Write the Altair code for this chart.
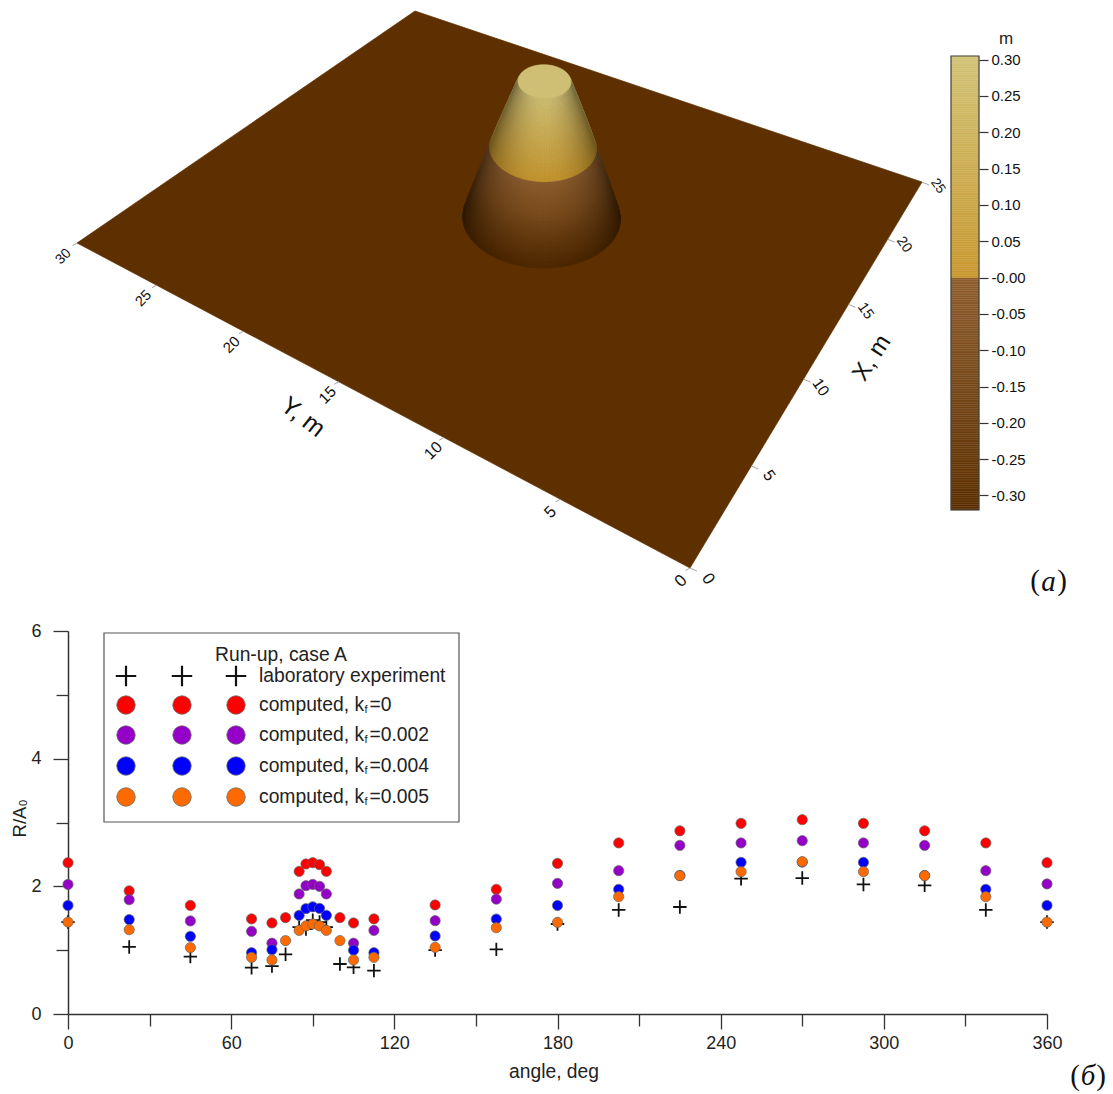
import altair as alt
import numpy as np
import pandas as pd

# ---------- run-up data (lower panel) ----------
angle = [0, 22.5, 45, 67.5, 75, 80, 85, 87.5, 90, 92.5, 95, 100, 105, 112.5, 135, 157.5,
         180, 202.5, 225, 247.5, 270, 292.5, 315, 337.5, 360]
lab = [1.44, 1.05, 0.90, 0.725, 0.75, 0.935, 1.36, 1.33, 1.47, 1.44, 1.36, 0.783, 0.73, 0.68, 1.00, 1.013,
       1.41, 1.63, 1.676, 2.12, 2.13, 2.03, 2.016, 1.63, 1.44]
k0 = [2.37, 1.93, 1.70, 1.49, 1.426, 1.51, 2.235, 2.35, 2.37, 2.34, 2.235, 1.51, 1.426, 1.49, 1.708, 1.953,
      2.36, 2.68, 2.87, 2.987, 3.044, 2.987, 2.87, 2.68, 2.37]
k002 = [2.03, 1.79, 1.457, 1.295, 1.11, None, 1.88, 2.01, 2.03, 2.0, 1.88, None, 1.11, 1.31, 1.462, 1.80,
        2.047, 2.245, 2.642, 2.68, 2.715, 2.68, 2.642, 2.245, 2.037]
k004 = [1.70, 1.48, 1.217, 0.96, 1.007, None, 1.546, 1.65, 1.68, 1.655, 1.546, None, 1.0, 0.96, 1.222, 1.488,
        1.70, 1.953, 2.17, 2.376, 2.38, 2.376, 2.17, 1.953, 1.70]
k005 = [1.44, 1.32, 1.04, 0.888, 0.846, 1.15, 1.31, 1.38, 1.41, 1.38, 1.31, 1.15, 0.846, 0.888, 1.044, 1.352,
        1.436, 1.838, 2.167, 2.23, 2.386, 2.23, 2.167, 1.838, 1.44]
series_colors = ["#ff0000", "#9400c8", "#0000ff", "#ff6a00"]
legend_rows = ["laboratory experiment", "computed, k", "computed, k", "computed, k", "computed, k"]
legend_tails = ["=0", "=0.002", "=0.004", "=0.005"]

x_major = [0, 60, 120, 180, 240, 300, 360]
x_minor = [30, 90, 150, 210, 270, 330]
y_major = [0, 2, 4, 6]
y_minor = [1, 3, 5]
cb_ticks = [0.30, 0.25, 0.20, 0.15, 0.10, 0.05, 0.0, -0.05, -0.10, -0.15, -0.20, -0.25, -0.30]

# ---------- island geometry (upper panel) ----------
cone_center = (12.96, 13.8)
z_bed, z_top = -0.32, 0.305
r_top, slope_inv = 1.1, 4.0
plane_src = [(0, 0), (25, 0), (25, 30), (0, 30)]
plane_dst = [(690, 568), (922, 182), (415, 11), (77, 243)]
x_ticks3d = [0, 5, 10, 15, 20, 25]
y_ticks3d = [0, 5, 10, 15, 20, 25, 30]
plane_color = "#5e3000"

W, H = 1097, 1086
PX = alt.Scale(domain=[8, 8 + W], range=[0, W])
PY = alt.Scale(domain=[8 + H, 8], range=[H, 0])
SX = alt.Scale(domain=[0, 360], range=[60, 1039], nice=False, zero=False)
SY = alt.Scale(domain=[0, 6], range=[1006, 623], nice=False, zero=False)
CB = alt.Scale(domain=[z_bed, z_top], range=[502, 48], nice=False, zero=False)
FONT = "Liberation Sans"


def homography(src, dst):
    a, b = [], []
    for (x, y), (u, v) in zip(src, dst):
        a.append([x, y, 1, 0, 0, 0, -u * x, -u * y]); b.append(u)
        a.append([0, 0, 0, x, y, 1, -v * x, -v * y]); b.append(v)
    h = np.linalg.solve(np.array(a, float), np.array(b, float))
    return np.append(h, 1).reshape(3, 3)


HM = homography(plane_src, plane_dst)


def ground(x, y):
    x, y = np.asarray(x, float), np.asarray(y, float)
    w = HM[2, 0] * x + HM[2, 1] * y + HM[2, 2]
    return (HM[0, 0] * x + HM[0, 1] * y + HM[0, 2]) / w, (HM[1, 0] * x + HM[1, 1] * y + HM[1, 2]) / w


def hex2rgb(c):
    return np.array([int(c[i:i + 2], 16) for i in (1, 3, 5)], float)


def cmap(z):
    if z < 0:
        t = (z - z_bed) / (0 - z_bed)
        c = hex2rgb("#5c2f00") * (1 - t) + hex2rgb("#905f30") * t
    else:
        t = z / z_top
        c = hex2rgb("#c8982f") * (1 - t) + hex2rgb("#d2c376") * t
    return c


def tohex(c):
    c = np.clip(c, 0, 255).round().astype(int)
    return "#%02x%02x%02x" % tuple(c)


thetas = np.linspace(0, 2 * np.pi, 121)
gx0, gy0 = ground(*cone_center)


def ring(z):
    t = (z - z_bed) / (z_top - z_bed)
    r = r_top + (z_top - z) * slope_inv
    gx, gy = ground(cone_center[0] + r * np.cos(thetas), cone_center[1] + r * np.sin(thetas))
    grow = 1 + 0.10 * t
    return gx0 + (gx - gx0) * grow + 3 * t, gy0 + (gy - gy0) * grow - 134 * t


def feat(xs, ys, c):
    pts = [[round(float(a), 2), round(float(b), 2)] for a, b in zip(xs, ys)]
    if pts[0] != pts[-1]:
        pts.append(pts[0])
    return {"type": "Feature", "properties": {"c": c}, "geometry": {"type": "Polygon", "coordinates": [pts]}}


features = [feat(*zip(*plane_dst), plane_color)]
z_levels = np.concatenate([np.linspace(z_bed, 0, 25), np.linspace(0, z_top, 25)[1:]])
z_pairs = [(a, b) for a, b in zip(z_levels[:-1], z_levels[1:])]
rx0, ry0 = ring(z_bed)
rx1, ry1 = ring(z_bed + 0.05)
i_front = int(np.argmax(ry0[:-1]))


def sarea(xa, ya, xb, yb, xc, yc, xd, yd):
    return (xa * yb - xb * ya) + (xb * yc - xc * yb) + (xc * yd - xd * yc) + (xd * ya - xa * yd)


front_sign = np.sign(sarea(rx0[i_front], ry0[i_front], rx0[i_front + 1], ry0[i_front + 1],
                           rx1[i_front + 1], ry1[i_front + 1], rx1[i_front], ry1[i_front]))
for za, zb in z_pairs:
    xa, ya = ring(za)
    xb, yb = ring(zb)
    zm = (za + zb) / 2
    xm, ym = ring(zm)
    hw = (xm.max() - xm.min()) / 2
    xc = (xm.max() + xm.min()) / 2
    base = cmap(zm)
    for i in range(len(thetas) - 1):
        s = sarea(xa[i], ya[i], xa[i + 1], ya[i + 1], xb[i + 1], yb[i + 1], xb[i], yb[i])
        if np.sign(s) != front_sign:
            continue
        u = ((xa[i] + xa[i + 1] + xb[i] + xb[i + 1]) / 4 - xc) / hw
        shade = 0.55 + 0.42 * np.sqrt(max(1 - u * u, 0))
        shade *= 0.85 + 0.15 * min(1, (zm - z_bed) / 0.2)
        features.append(feat([xa[i], xa[i + 1], xb[i + 1], xb[i]], [ya[i], ya[i + 1], yb[i + 1], yb[i]],
                             tohex(base * shade)))
cx, cy = ring(z_top)
features.append(feat(cx[:-1], cy[:-1], tohex(cmap(z_top) * 0.98)))

surface = alt.Chart(alt.InlineData(values=features)).mark_geoshape(strokeWidth=0.7).encode(
    color=alt.Color("properties.c:N", scale=None),
    stroke=alt.Stroke("properties.c:N", scale=None),
).project(type="identity", scale=1, translate=[-8, -8])

# ---------- 3D edge ticks and labels ----------
rows_tick, rows_txt = [], []
for v in x_ticks3d:
    px, py = ground(v, 0)
    rows_tick.append(dict(x=float(px), y=float(py), x2=float(px) + 7, y2=float(py) + 3))
    rows_txt.append(dict(t=str(v), x=float(px) + 18 - v * 0.08, y=float(py) + 11 - v * 0.28, a=55, s=17 - v * 0.14))
for v in y_ticks3d:
    px, py = ground(0, v)
    rows_tick.append(dict(x=float(px), y=float(py), x2=float(px) - 4.5, y2=float(py) + 2.5))
    rows_txt.append(dict(t=str(v), x=float(px) - 9 - v * 0.15, y=float(py) + 13 + v * 0.02, a=315, s=17 - v * 0.1))
rows_txt.append(dict(t="Y, m", x=303, y=417, a=38, s=25))
rows_txt.append(dict(t="X, m", x=872, y=358, a=303, s=24))
ticks3d = alt.Chart(pd.DataFrame(rows_tick)).mark_rule(color="#999", strokeWidth=0.9).encode(
    x=alt.X("x:Q", scale=PX, axis=None), x2="x2:Q", y=alt.Y("y:Q", scale=PY, axis=None), y2="y2:Q")
labels3d = alt.Chart(pd.DataFrame(rows_txt)).mark_text(font=FONT, color="#111", baseline="middle", align="center").encode(
    x=alt.X("x:Q", scale=PX, axis=None), y=alt.Y("y:Q", scale=PY, axis=None), text="t:N",
    angle=alt.Angle("a:Q", scale=None), size=alt.Size("s:Q", scale=None))

# ---------- colour bar ----------
cb_edges = np.concatenate([np.arange(z_bed, -1e-9, 0.0025), [0.0], np.arange(0.0025, z_top, 0.0025), [z_top]])
cb_df = pd.DataFrame({"z0": cb_edges[:-1], "z1": cb_edges[1:], "xa": 951, "xb": 979,
                      "c": [tohex(cmap((a + b) / 2)) for a, b in zip(cb_edges[:-1], cb_edges[1:])]})
cb_axis = alt.Axis(values=cb_ticks, orient="right", offset=-126, domain=False, grid=False, title=None,
                   tickSize=9, tickColor="#333", tickWidth=1.2, labelFont=FONT, labelFontSize=15,
                   labelColor="#111", labelPadding=3, labelFlush=False,
                   labelExpr="datum.value == 0 ? '-0.00' : (datum.value < 0 ? '-' : '') + format(abs(datum.value), '.2f')")
cbar = alt.Chart(cb_df).mark_rect(strokeWidth=0.4).encode(
    x=alt.X("xa:Q", scale=PX, axis=None), x2="xb:Q",
    y=alt.Y("z0:Q", scale=CB, axis=cb_axis), y2="z1:Q",
    color=alt.Color("c:N", scale=None), stroke=alt.Stroke("c:N", scale=None))
cb_frame = alt.Chart(pd.DataFrame({"xa": [951], "xb": [979], "z0": [z_bed], "z1": [z_top]})).mark_rect(
    fillOpacity=0, stroke="#444", strokeWidth=1.2).encode(
    x=alt.X("xa:Q", scale=PX, axis=None), x2="xb:Q",
    y=alt.Y("z0:Q", scale=CB, axis=None), y2="z1:Q")

# ---------- scatter ----------
PLUS = "M-1,0L1,0M0,-1L0,1"
X_OFF = 1006 - H
common = dict(grid=False, title=None, tickColor="#333", tickWidth=1.3, domainColor="#333", domainWidth=1.5,
              labelFont=FONT, labelFontSize=18, labelColor="#222", labelFlush=False)
ax_x = alt.Axis(values=x_major, orient="bottom", offset=X_OFF, tickSize=15, labelPadding=5, **common)
ax_y = alt.Axis(values=y_major, orient="left", offset=-60, tickSize=15, labelPadding=12, **common)
ax_x2 = alt.Axis(values=x_minor, orient="bottom", offset=X_OFF, tickSize=12, labels=False, domain=False, grid=False,
                 title=None, tickColor="#333", tickWidth=1.3)
ax_y2 = alt.Axis(values=y_minor, orient="left", offset=-60, tickSize=12, labels=False, domain=False, grid=False,
                 title=None, tickColor="#333", tickWidth=1.3)


def series(values):
    return pd.DataFrame({"angle": angle, "v": values}).dropna()


lab_layer = alt.Chart(series(lab)).mark_point(shape=PLUS, filled=False, stroke="#111", strokeWidth=1.8, size=180, opacity=1).encode(
    x=alt.X("angle:Q", scale=SX, axis=ax_x), y=alt.Y("v:Q", scale=SY, axis=ax_y))
layers_pts = []
for i, (vals, col) in enumerate(zip([k0, k002, k004, k005], series_colors)):
    layers_pts.append(alt.Chart(series(vals)).mark_circle(size=105, color=col, stroke="#666", strokeWidth=0.7, opacity=1).encode(
        x=alt.X("angle:Q", scale=SX, axis=ax_x2 if i == 0 else None),
        y=alt.Y("v:Q", scale=SY, axis=ax_y2 if i == 0 else None)))

# ---------- legend ----------
box = alt.Chart(pd.DataFrame({"x": [104], "x2": [459], "y": [633], "y2": [822]})).mark_rect(
    fill="white", stroke="#555", strokeWidth=1.2).encode(
    x=alt.X("x:Q", scale=PX, axis=None), x2="x2:Q", y=alt.Y("y:Q", scale=PY, axis=None), y2="y2:Q")
sym_x = [126, 182, 236]
row_y = [676, 705, 735, 766, 797]
plus_leg = alt.Chart(pd.DataFrame({"x": sym_x, "y": [row_y[0]] * 3})).mark_point(
    shape=PLUS, filled=False, stroke="#111", strokeWidth=2.2, size=420, opacity=1).encode(
    x=alt.X("x:Q", scale=PX, axis=None), y=alt.Y("y:Q", scale=PY, axis=None))
circ_df = pd.DataFrame([dict(x=x, y=y, c=c) for y, c in zip(row_y[1:], series_colors) for x in sym_x])
circ_leg = alt.Chart(circ_df).mark_circle(size=340, stroke="#666", strokeWidth=0.8, opacity=1).encode(
    x=alt.X("x:Q", scale=PX, axis=None), y=alt.Y("y:Q", scale=PY, axis=None), color=alt.Color("c:N", scale=None))

txt_rows = [dict(t="Run-up, case A", x=215, y=655, s=19.3)]
txt_rows += [dict(t=t, x=259, y=y, s=19.3) for t, y in zip(legend_rows, row_y)]
txt_rows += [dict(t=t, x=369.5, y=y, s=19.3) for t, y in zip(legend_tails, row_y[1:])]
txt_rows += [dict(t="f", x=364.5, y=y + 5, s=11) for y in row_y[1:]]
left_txt = alt.Chart(pd.DataFrame(txt_rows)).mark_text(font=FONT, color="#222", align="left", baseline="middle").encode(
    x=alt.X("x:Q", scale=PX, axis=None), y=alt.Y("y:Q", scale=PY, axis=None), text="t:N",
    size=alt.Size("s:Q", scale=None))

center_rows = [
    dict(t="angle, deg", x=554, y=1072, s=19.3, a=0),
    dict(t="R/A", x=20, y=822, s=18.5, a=270),
    dict(t="0", x=24, y=803, s=11, a=270),
    dict(t="m", x=1006, y=39, s=17, a=0),
]
center_txt = alt.Chart(pd.DataFrame(center_rows)).mark_text(font=FONT, color="#222", align="center", baseline="middle").encode(
    x=alt.X("x:Q", scale=PX, axis=None), y=alt.Y("y:Q", scale=PY, axis=None), text="t:N",
    size=alt.Size("s:Q", scale=None), angle=alt.Angle("a:Q", scale=None))

serif_rows = [dict(t="(", x=1035, y=581), dict(t=")", x=1062, y=581), dict(t="(", x=1075, y=1076), dict(t=")", x=1101, y=1076)]
serif_ital = [dict(t="a", x=1048.5, y=582), dict(t="б", x=1088, y=1076)]
serif_a = alt.Chart(pd.DataFrame(serif_rows)).mark_text(font="Liberation Serif", fontSize=29, color="#111", baseline="middle").encode(
    x=alt.X("x:Q", scale=PX, axis=None), y=alt.Y("y:Q", scale=PY, axis=None), text="t:N")
serif_b = alt.Chart(pd.DataFrame(serif_ital)).mark_text(font="Liberation Serif", fontSize=29, fontStyle="italic", color="#111", baseline="middle").encode(
    x=alt.X("x:Q", scale=PX, axis=None), y=alt.Y("y:Q", scale=PY, axis=None), text="t:N")

chart = alt.layer(surface, ticks3d, labels3d, cbar, cb_frame, lab_layer, *layers_pts,
                  box, plus_leg, circ_leg, left_txt, center_txt, serif_a, serif_b).resolve_scale(
    x="independent", y="independent"
).properties(
    width=W, height=H, padding=0, autosize=alt.AutoSizeParams(type="none", contains="padding"),
    background="white"
).configure_view(stroke=None)

chart.save("out.html", embed_options={"renderer": "svg", "actions": False})
